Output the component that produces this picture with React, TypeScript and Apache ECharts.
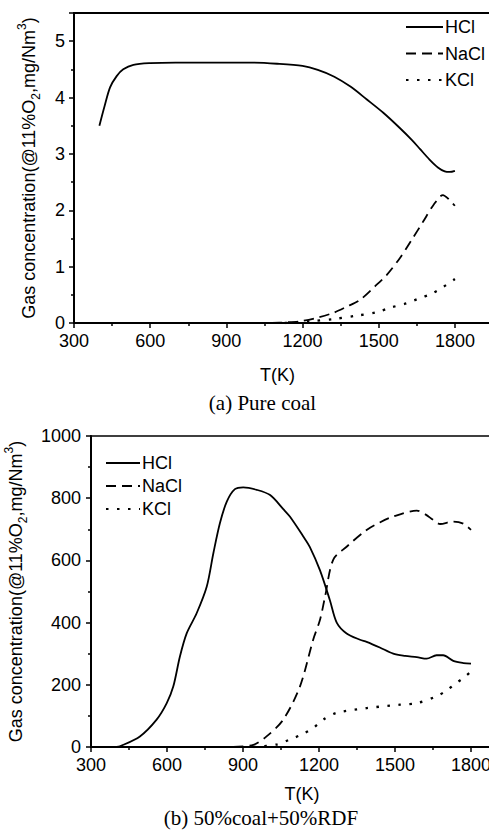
import React, { useEffect, useRef } from "react";
import * as echarts from "echarts";

// ---------- (a) Pure coal ----------
const coalHClT = [400, 420, 442, 468, 494, 534, 600, 700, 800, 900, 1000, 1100, 1200, 1260, 1325, 1390, 1452, 1518, 1583, 1630, 1662, 1700, 1733, 1760, 1780, 1800];
const coalHCl = [3.5, 3.84, 4.18, 4.38, 4.5, 4.58, 4.61, 4.62, 4.62, 4.62, 4.62, 4.6, 4.56, 4.49, 4.37, 4.19, 3.97, 3.73, 3.46, 3.25, 3.09, 2.9, 2.76, 2.69, 2.68, 2.7];
const coalNaClT = [1080, 1130, 1190, 1255, 1321, 1374, 1426, 1485, 1531, 1583, 1629, 1675, 1715, 1753, 1775, 1800];
const coalNaCl = [0, 0.01, 0.03, 0.09, 0.18, 0.29, 0.41, 0.65, 0.85, 1.15, 1.47, 1.8, 2.09, 2.27, 2.2, 2.08];
const coalKClT = [1130, 1229, 1321, 1413, 1492, 1544, 1610, 1656, 1708, 1754, 1800];
const coalKCl = [0, 0.03, 0.07, 0.13, 0.19, 0.27, 0.35, 0.43, 0.52, 0.64, 0.78];

// ---------- (b) 50%coal+50%RDF ----------
const mixHClT = [401, 414, 493, 559, 599, 625, 651, 678, 717, 757, 783, 809, 836, 868, 901, 954, 1007, 1059, 1085, 1138, 1164, 1204, 1243, 1270, 1309, 1362, 1388, 1440, 1493, 1540, 1586, 1625, 1664, 1690, 1730, 1770, 1800];
const mixHCl = [0, 2, 34, 88, 141, 195, 291, 366, 430, 516, 623, 720, 789, 829, 835, 827, 810, 765, 741, 677, 643, 568, 472, 400, 365, 345, 338, 320, 300, 293, 289, 284, 295, 295, 277, 270, 268];
const mixNaClT = [862, 941, 993, 1059, 1125, 1177, 1204, 1224, 1256, 1309, 1388, 1440, 1493, 1586, 1620, 1651, 1678, 1730, 1770, 1800];
const mixNaCl = [0, 7, 34, 88, 195, 345, 409, 484, 602, 644, 698, 722, 741, 760, 748, 730, 717, 725, 718, 698];
const mixKClT = [941, 1033, 1085, 1131, 1177, 1217, 1270, 1388, 1520, 1586, 1664, 1700, 1743, 1770, 1800];
const mixKCl = [0, 8, 24, 40, 61, 88, 110, 125, 136, 141, 163, 180, 206, 222, 243];

const seriesNames = ["HCl", "NaCl", "KCl"];
const xTicks = { min: 300, max: 1950, interval: 300 };
const yNameText = "Gas concentration(@11%O{sub|2},mg/Nm{sup|3})";
const xTitle = "T(K)";
const captionA = "(a) Pure coal";
const captionB = "(b) 50%coal+50%RDF";

const SANS = "'Liberation Sans', Arial, sans-serif";
const SERIF = "'Liberation Serif', 'Times New Roman', serif";

const pair = (xs: number[], ys: number[]) => xs.map((x, i) => [x, ys[i]]);

const lineStyles: any[] = [
  { color: "#000", width: 1.8, type: "solid" },
  { color: "#000", width: 1.8, type: [10, 6] },
  { color: "#000", width: 2.3, type: [2.5, 8.5] },
];

export default function App() {
  const ref = useRef<HTMLDivElement>(null);
  useEffect(() => {
    if (!ref.current) return;
    const chart = echarts.init(ref.current, undefined, { renderer: "svg" });

    const xAxisBase = (gridIndex: number) => ({
      type: "value",
      gridIndex,
      min: xTicks.min,
      max: xTicks.max,
      interval: xTicks.interval,
      axisLine: { show: true, lineStyle: { color: "#000", width: 2 } },
      axisTick: { show: true, length: 5, lineStyle: { color: "#000", width: 1.5 } },
      minorTick: { show: true, splitNumber: 2, length: 3, lineStyle: { color: "#000", width: 1.5 } },
      splitLine: { show: false },
      axisLabel: { color: "#000", fontSize: 18, fontFamily: SANS, margin: 9, showMaxLabel: false, formatter: (v: number) => String(v) },
    });

    const yName = (gap: number) => ({
      name: yNameText,
      nameLocation: "middle",
      nameGap: gap,
      nameTextStyle: {
        color: "#000",
        fontSize: 18,
        fontFamily: SANS,
        lineHeight: 26,
        rich: {
          sub: { fontSize: 12, fontFamily: SANS, color: "#000", verticalAlign: "bottom", lineHeight: 12 },
          sup: { fontSize: 12, fontFamily: SANS, color: "#000", verticalAlign: "top", lineHeight: 12 },
        },
      },
    });

    const yAxisBase = (gridIndex: number, max: number, interval: number, gap: number, margin: number) => ({
      type: "value",
      gridIndex,
      min: 0,
      max,
      interval,
      ...yName(gap),
      axisLine: { show: true, lineStyle: { color: "#000", width: 2 } },
      axisTick: { show: true, length: 5, lineStyle: { color: "#000", width: 1.5 } },
      minorTick: { show: true, splitNumber: 2, length: 3, lineStyle: { color: "#000", width: 1.5 } },
      splitLine: { show: false },
      axisLabel: { color: "#000", fontSize: 18, fontFamily: SANS, margin, showMaxLabel: max % interval === 0, formatter: (v: number) => String(v) },
    });

    const mk = (name: string, data: number[][], idx: number, axisIdx: number) => ({
      type: "line",
      name,
      xAxisIndex: axisIdx,
      yAxisIndex: axisIdx,
      data,
      symbol: "none",
      showSymbol: false,
      smooth: 0.3,
      lineStyle: lineStyles[idx],
      itemStyle: { color: "#000" },
    });

    const legendBase = (left: number, top: number, itemWidth: number, gap: number) => ({
      orient: "vertical",
      left,
      top,
      padding: 0,
      itemWidth,
      itemHeight: 18,
      itemGap: gap,
      data: seriesNames,
      selectedMode: false,
      itemStyle: { color: "transparent", borderColor: "transparent", borderWidth: 0 },
      textStyle: { color: "#000", fontSize: 18, fontFamily: SANS, lineHeight: 18, padding: [0, 0, 0, -3] },
    });

    chart.setOption({
      animation: false,
      backgroundColor: "#fff",
      grid: [
        { left: 74, top: 13, width: 419, height: 310, containLabel: false, outerBoundsMode: "none", show: true, borderColor: "#000", borderWidth: 2, backgroundColor: "transparent" },
        { left: 91, top: 436, width: 418, height: 311, containLabel: false, outerBoundsMode: "none", show: true, borderColor: "#000", borderWidth: 1.5, backgroundColor: "transparent" },
      ],
      xAxis: [xAxisBase(0), xAxisBase(1)],
      yAxis: [yAxisBase(0, 5.5, 1, 32, 9), yAxisBase(1, 1000, 200, 62, 10)],
      legend: [legendBase(405, 18, 37, 8.5), legendBase(105, 454, 34, 5)],
      series: [
        mk("HCl", pair(coalHClT, coalHCl), 0, 0),
        mk("NaCl", pair(coalNaClT, coalNaCl), 1, 0),
        mk("KCl", pair(coalKClT, coalKCl), 2, 0),
        mk("HCl", pair(mixHClT, mixHCl), 0, 1),
        mk("NaCl", pair(mixNaClT, mixNaCl), 1, 1),
        mk("KCl", pair(mixKClT, mixKCl), 2, 1),
      ],
      graphic: [
        { type: "text", x: 277.5, y: 375, style: { text: xTitle, fill: "#000", font: `18px ${SANS}`, align: "center", verticalAlign: "middle" } },
        { type: "text", x: 302, y: 794, style: { text: xTitle, fill: "#000", font: `18px ${SANS}`, align: "center", verticalAlign: "middle" } },
        { type: "text", x: 262.5, y: 403, style: { text: captionA, fill: "#000", font: `21px ${SERIF}`, align: "center", verticalAlign: "middle" } },
        { type: "text", x: 261, y: 818, style: { text: captionB, fill: "#000", font: `21px ${SERIF}`, align: "center", verticalAlign: "middle" } },
      ],
    } as any);

    return () => chart.dispose();
  }, []);

  return (
    <div
      ref={ref}
      style={{ position: "absolute", left: 0, top: 0, width: 489, height: 834, overflow: "hidden", background: "#fff" }}
    />
  );
}
